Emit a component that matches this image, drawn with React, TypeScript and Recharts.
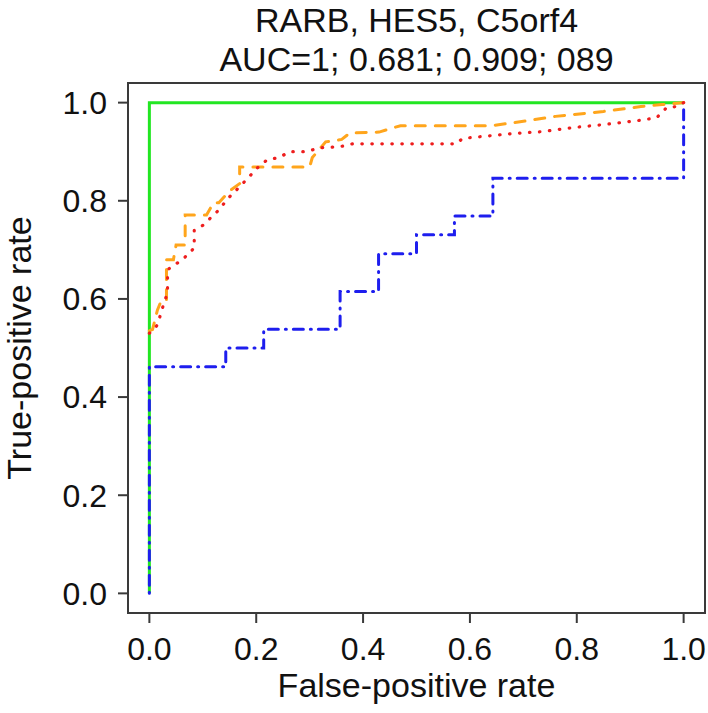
import React from 'react';
import {
  LineChart,
  Line,
  XAxis,
  YAxis,
  ReferenceArea,
} from 'recharts';

// title / axis text
const titleLines = ['RARB, HES5, C5orf4', 'AUC=1; 0.681; 0.909; 089'];
const xTitle = 'False-positive rate';
const yTitle = 'True-positive rate';
const axisTicks = [0, 0.2, 0.4, 0.6, 0.8, 1.0];

// green: perfect curve
const greenX = [0, 0, 1];
const greenY = [0, 1, 1];

// blue dot-dash step curve
const blueX = [0, 0, 0.143, 0.143, 0.214, 0.214, 0.357, 0.357, 0.429, 0.429, 0.5, 0.5, 0.571, 0.571, 0.643, 0.643, 1, 1];
const blueY = [0, 0.462, 0.462, 0.5, 0.5, 0.538, 0.538, 0.615, 0.615, 0.692, 0.692, 0.731, 0.731, 0.769, 0.769, 0.846, 0.846, 1];

// orange dashed
const orangeX = [0, 0.006, 0.015, 0.022, 0.032, 0.032, 0.045, 0.05, 0.067, 0.067, 0.107, 0.12, 0.13, 0.15, 0.169, 0.169, 0.3, 0.305, 0.33, 0.36, 0.375, 0.43, 0.47, 0.64, 0.7, 0.76, 0.85, 0.92, 0.96, 1];
const orangeY = [0.535, 0.538, 0.577, 0.596, 0.596, 0.68, 0.68, 0.71, 0.71, 0.771, 0.771, 0.796, 0.796, 0.82, 0.835, 0.869, 0.869, 0.888, 0.92, 0.925, 0.938, 0.94, 0.953, 0.953, 0.962, 0.972, 0.982, 0.992, 0.996, 1];

// red dotted
const redX = [0, 0.006, 0.015, 0.028, 0.034, 0.034, 0.041, 0.062, 0.084, 0.084, 0.1, 0.127, 0.15, 0.163, 0.187, 0.2, 0.221, 0.243, 0.262, 0.294, 0.318, 0.356, 0.38, 0.575, 0.586, 0.68, 0.736, 0.792, 0.848, 0.912, 0.949, 0.96, 0.968, 0.987, 1];
const redY = [0.53, 0.535, 0.547, 0.594, 0.612, 0.659, 0.665, 0.68, 0.704, 0.74, 0.75, 0.778, 0.808, 0.822, 0.849, 0.865, 0.884, 0.888, 0.9, 0.9, 0.908, 0.91, 0.916, 0.916, 0.927, 0.937, 0.941, 0.949, 0.955, 0.963, 0.969, 0.98, 0.99, 0.992, 1];

const toPoints = (xs: number[], ys: number[]) => xs.map((x, i) => ({ x, y: ys[i] }));

const FONT = '"Liberation Sans", Arial, Helvetica, sans-serif';
const AXIS = '#3a3a3a';
const DOMAIN: [number, number] = [-0.04, 1.04];

const XTitle = ({ viewBox }: any) => {
  const x = (viewBox?.x ?? 128) + (viewBox?.width ?? 577) / 2;
  const y = (viewBox?.y ?? 613) + 84;
  return (
    <text x={x} y={y} textAnchor="middle" fontSize={34} fill="#111" fontFamily={FONT}>
      {xTitle}
    </text>
  );
};

const YTitle = ({ viewBox }: any) => {
  const cx = 31;
  const cy = (viewBox?.y ?? 83) + (viewBox?.height ?? 530) / 2;
  return (
    <text
      x={cx}
      y={cy}
      textAnchor="middle"
      fontSize={34}
      fill="#111"
      fontFamily={FONT}
      transform={`rotate(-90 ${cx} ${cy})`}
    >
      {yTitle}
    </text>
  );
};

export default function App() {
  const green = toPoints(greenX, greenY);
  const blue = toPoints(blueX, blueY);
  const orange = toPoints(orangeX, orangeY);
  const red = toPoints(redX, redY);

  const tickStyle = { fill: '#111', fontSize: 32, fontFamily: FONT };

  return (
    <div style={{ position: 'absolute', left: 0, top: 0, width: 708, height: 713, background: '#fff' }}>
      <div
        style={{
          position: 'absolute',
          left: 128,
          width: 577,
          top: 1,
          textAlign: 'center',
          fontFamily: FONT,
          fontSize: 34,
          lineHeight: '39px',
          color: '#111',
        }}
      >
        {titleLines.map((t) => (
          <div key={t}>{t}</div>
        ))}
      </div>
      <LineChart width={708} height={713} margin={{ top: 83, right: 3, bottom: 0, left: 0 }}>
        <XAxis
          dataKey="x"
          type="number"
          domain={DOMAIN}
          allowDataOverflow
          ticks={axisTicks}
          tickFormatter={(v: number) => v.toFixed(1)}
          height={100}
          tickSize={10}
          tickMargin={14}
          tick={tickStyle}
          stroke={AXIS}
          strokeWidth={2}
          label={<XTitle />}
        />
        <YAxis
          type="number"
          domain={DOMAIN}
          allowDataOverflow
          ticks={axisTicks}
          tickFormatter={(v: number) => v.toFixed(1)}
          width={128}
          tickSize={10}
          tickMargin={11}
          tick={tickStyle}
          stroke={AXIS}
          strokeWidth={2}
          label={<YTitle />}
        />
        <ReferenceArea x1={-0.04} x2={1.04} y1={-0.04} y2={1.04} fill="none" stroke={AXIS} strokeWidth={2} fillOpacity={0} />
        <Line data={green} dataKey="y" type="linear" stroke="#22e622" strokeWidth={3} dot={false} isAnimationActive={false} />
        <Line
          data={orange}
          dataKey="y"
          type="linear"
          stroke="#ffa51c"
          strokeWidth={3}
          strokeDasharray="10 10"
          strokeLinecap="round"
          dot={false}
          isAnimationActive={false}
        />
        <Line
          data={red}
          dataKey="y"
          type="linear"
          stroke="#ee1e1e"
          strokeWidth={3.2}
          strokeDasharray="0.5 9.5"
          strokeLinecap="round"
          dot={false}
          isAnimationActive={false}
        />
        <Line
          data={blue}
          dataKey="y"
          type="linear"
          stroke="#1e1eee"
          strokeWidth={3}
          strokeDasharray="1 7 10 7"
          strokeLinecap="round"
          dot={false}
          isAnimationActive={false}
        />
      </LineChart>
    </div>
  );
}
